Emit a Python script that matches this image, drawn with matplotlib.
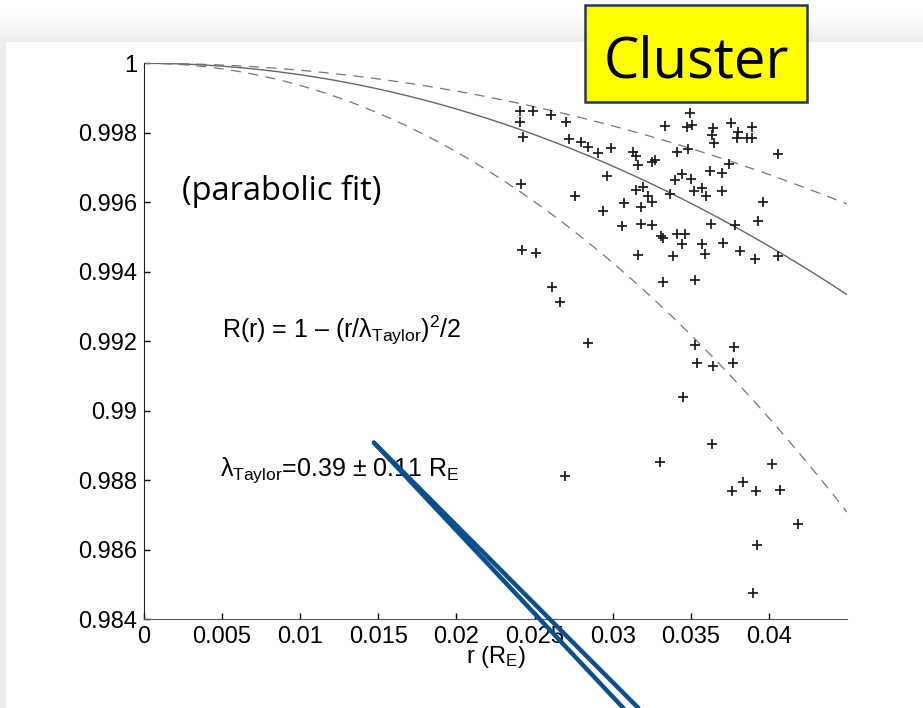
import numpy as np
import matplotlib
matplotlib.use("Agg")
import matplotlib.pyplot as plt
from matplotlib.patches import Rectangle
from matplotlib.lines import Line2D

# correlation samples R(r), r in Earth radii
r_pts = [
    0.02408, 0.02493, 0.02408, 0.02606, 0.02702, 0.02425, 0.02723, 0.02796, 0.02845, 0.02909,
    0.02988, 0.03133, 0.03147, 0.03165, 0.03253, 0.03272, 0.02963, 0.02412, 0.02760, 0.03150,
    0.03193, 0.03229, 0.03250, 0.03074, 0.03184, 0.02935, 0.03059, 0.03184, 0.03251, 0.02419,
    0.02510, 0.03165, 0.02611, 0.03496, 0.03336, 0.03475, 0.03507, 0.03642, 0.03635, 0.03650,
    0.03757, 0.03802, 0.03795, 0.03859, 0.03895, 0.03895, 0.03415, 0.03481, 0.04061, 0.03746,
    0.03620, 0.03699, 0.03443, 0.03396, 0.03501, 0.03368, 0.03522, 0.03571, 0.03597, 0.03703,
    0.03965, 0.03631, 0.03784, 0.03933, 0.03310, 0.03323, 0.03415, 0.03460, 0.03447, 0.03571,
    0.03588, 0.03709, 0.03816, 0.03912, 0.04061, 0.03389, 0.03319, 0.03528, 0.02664, 0.02841,
    0.03528, 0.03778, 0.03539, 0.03642, 0.03770, 0.03449, 0.03639, 0.03300, 0.04023, 0.02696,
    0.03837, 0.03767, 0.03917, 0.04068, 0.04186, 0.03923, 0.03901,
]
R_pts = [
    0.99864, 0.99864, 0.99832, 0.99851, 0.99832, 0.99787, 0.99782, 0.99774, 0.99758, 0.99743,
    0.99755, 0.99745, 0.99733, 0.99707, 0.99716, 0.99722, 0.99676, 0.99652, 0.99619, 0.99635,
    0.99645, 0.99618, 0.99602, 0.99597, 0.99586, 0.99575, 0.99533, 0.99538, 0.99536, 0.99462,
    0.99453, 0.99447, 0.99357, 0.99858, 0.99820, 0.99818, 0.99822, 0.99813, 0.99794, 0.99770,
    0.99827, 0.99803, 0.99786, 0.99786, 0.99818, 0.99784, 0.99746, 0.99753, 0.99739, 0.99710,
    0.99690, 0.99685, 0.99681, 0.99664, 0.99666, 0.99624, 0.99633, 0.99640, 0.99618, 0.99633,
    0.99602, 0.99538, 0.99535, 0.99546, 0.99503, 0.99497, 0.99509, 0.99509, 0.99480, 0.99480,
    0.99451, 0.99482, 0.99461, 0.99436, 0.99445, 0.99445, 0.99372, 0.99376, 0.99314, 0.99194,
    0.99189, 0.99184, 0.99137, 0.99129, 0.99138, 0.99041, 0.98904, 0.98854, 0.98847, 0.98813,
    0.98796, 0.98769, 0.98769, 0.98772, 0.98673, 0.98614, 0.98475,
]

lam_fit = 0.39
lam_err = 0.11

x_ticks = [0, 0.005, 0.01, 0.015, 0.02, 0.025, 0.03, 0.035, 0.04]
x_labels = ["0", "0.005", "0.01", "0.015", "0.02", "0.025", "0.03", "0.035", "0.04"]
y_ticks = [0.984, 0.986, 0.988, 0.99, 0.992, 0.994, 0.996, 0.998, 1.0]
y_labels = ["0.984", "0.986", "0.988", "0.99", "0.992", "0.994", "0.996", "0.998", "1"]

W, H = 923, 708

plt.rcParams["font.family"] = ["Liberation Sans", "DejaVu Sans"]
plt.rcParams["mathtext.fontset"] = "custom"
plt.rcParams["mathtext.rm"] = "Liberation Sans"
plt.rcParams["mathtext.it"] = "Liberation Sans"
plt.rcParams["mathtext.bf"] = "Liberation Sans:bold"

fig = plt.figure(figsize=(W / 100, H / 100), dpi=100)

# slide background: faint grey header band and left strip
bg = fig.add_axes([0, 0, 1, 1], zorder=-5)
img = np.ones((H, W, 3))
for row in range(12, 42):
    img[row, :, :] = 1.0 - 0.075 * (row - 12) / 30
img[42:, :6, :] = 0.93
bg.imshow(img, extent=(0, W, H, 0), aspect="auto", interpolation="bilinear")
bg.set_xlim(0, W)
bg.set_ylim(H, 0)
bg.axis("off")

ax = fig.add_axes([144 / W, 1 - 619.3 / H, (847 - 144) / W, (619.3 - 63.3) / H], zorder=1)

r = np.linspace(0, 0.045, 300)
ax.plot(r, 1 - (r / lam_fit) ** 2 / 2, color="#666666", lw=1.0)
for lam in (lam_fit - lam_err, lam_fit + lam_err):
    ax.plot(r, 1 - (r / lam) ** 2 / 2, color="#777777", lw=0.9, ls=(0, (8, 6)))
ax.plot(r_pts, R_pts, ls="none", marker="+", ms=7.8, mew=1.25, color="#1a1a1a")

ax.set_xlim(0, 0.045)
ax.set_ylim(0.984, 1.0)
ax.set_xticks(x_ticks)
ax.set_xticklabels(x_labels)
ax.set_yticks(y_ticks)
ax.set_yticklabels(y_labels)
ax.tick_params(direction="in", length=4, width=1, labelsize=17, pad=5)
for side in ("top", "right"):
    ax.spines[side].set_visible(False)
ax.spines["left"].set_color("#222222")
ax.spines["bottom"].set_color("#555555")
ax.set_xlabel(r"r (R$_{\rm E}$)", fontsize=17, labelpad=-3)

ax.text(0.00498, 0.99209, r"R(r) = 1 – (r/$\lambda_{\rm Taylor}$)$^2$/2",
        fontsize=18, va="baseline", ha="left")
ax.text(0.00487, 0.98812, r"$\lambda_{\rm Taylor}$=0.39 $\pm$ 0.11 R$_{\rm E}$",
        fontsize=18, va="baseline", ha="left")
ax.text(0.00242, 0.99607, "(parabolic fit)", family="Open Sans",
        fontsize=23.5, va="baseline", ha="left")

# slide annotations drawn over the figure
ov = fig.add_axes([0, 0, 1, 1], zorder=10)
ov.set_xlim(0, W)
ov.set_ylim(H, 0)
ov.axis("off")
ov.patch.set_alpha(0)
ov.add_patch(Rectangle((585, 5), 222, 97, facecolor="#ffff00",
                       edgecolor="#203864", lw=1.8))
ov.text(696, 77.5, "Cluster", family="Open Sans", fontsize=40.5,
        ha="center", va="baseline", color="black")
for x_end in (623.3, 638.3):
    ov.add_line(Line2D([374, x_end], [442.7, 708], color="#0b4f8e", lw=3.2,
                       solid_capstyle="round"))

fig.savefig("out.png", dpi=100)
